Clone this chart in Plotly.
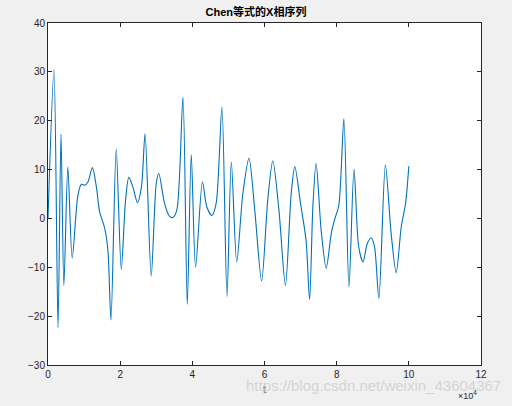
import plotly.graph_objects as go

# Chen system, x component (t in units of 1)
t_vals = [0, 1660, 2770, 3600, 4400, 5500, 6700, 8300, 9250, 10200, 11100, 12300,
          13400, 14300, 15700, 16600, 17450, 18900, 20300, 21500, 22400, 23500,
          24800, 25900, 26900, 28600, 30000, 30700, 32300, 33700, 34600, 35700,
          37400, 38600, 39700, 40900, 42800, 44000, 45400, 46600, 48200, 49600,
          50800, 52300, 54000, 55700, 57300, 59200, 60900, 62300, 64000, 65800,
          67400, 68400, 70000, 71500, 72500, 73400, 74300, 75700, 77100, 78500,
          79400, 80600, 82000, 83400, 84800, 86100, 87300, 88500, 89600, 90500,
          91700, 93500, 95100, 96500, 97900, 99100, 100000]
x_vals = [0, 30.4, -22.3, 17.2, -13.7, 10.5, -8.1, 4.8, 7.0, 6.8, 7.5, 10.4,
          6.5, 1.4, -2.0, -6.5, -20.8, 14.2, -10.4, 3.8, 8.4, 6.5,
          3.2, 6.5, 17.3, -11.8, 7.2, 9.2, 3.1, 0.4, 0.2, 1.7,
          24.8, -17.6, 13.1, -10.0, 7.5, 2.4, 0.6, 3.1, 22.8, -16.0,
          11.6, -8.9, 5.1, 12.3, 1.7, -12.8, 3.8, 11.8, 1.7, -13.7,
          5.1, 10.6, 3.0, -4.4, -16.6, 2.4, 11.3, -2.4, -10.2, -3.1,
          -0.3, 2.7, 20.4, -14.1, 10.1, -5.8, -8.9, -5.1, -4.0, -5.8,
          -16.4, 11.0, -3.1, -11.1, -1.7, 3.1, 10.7]

x_ticks = [0, 20000, 40000, 60000, 80000, 100000, 120000]
x_ticklabels = ["0", "2", "4", "6", "8", "10", "12"]
y_ticks = [-30, -20, -10, 0, 10, 20, 30, 40]

fig = go.Figure()
fig.add_trace(go.Scatter(
    x=t_vals, y=x_vals, mode="lines",
    line=dict(color="#0072BD", width=1.1, shape="spline", smoothing=0.8),
    showlegend=False, hoverinfo="skip"
))

axis_common = dict(
    showgrid=False, zeroline=False, showline=True, linecolor="#262626",
    linewidth=1, mirror="ticks", ticks="inside", ticklen=4, automargin=False,
    tickcolor="#262626", tickfont=dict(size=10, color="#262626"),
)

fig.update_layout(
    width=512, height=406,
    paper_bgcolor="#F0F0F0", plot_bgcolor="#FFFFFF",
    margin=dict(l=48, r=31, t=23, b=41),
    font=dict(family="Liberation Sans, Arial, sans-serif", color="#262626"),
    title=dict(text="<b>Chen等式的X相序列</b>", x=0.5, xanchor="center",
               y=0.98, yanchor="top",
               font=dict(size=11, family="Liberation Sans, Noto Sans CJK SC", color="#000000")),
    xaxis=dict(range=[0, 120000], tickvals=x_ticks, ticktext=x_ticklabels,
               title=dict(text="t", font=dict(size=11), standoff=6), **axis_common),
    yaxis=dict(range=[-30, 40], tickvals=y_ticks, **axis_common),
)

fig.add_annotation(text="https://blog.csdn.net/weixin_43604367", xref="paper", yref="paper",
                   x=1.05, y=-0.03, xanchor="right", yanchor="top",
                   showarrow=False, font=dict(size=15, color="rgba(205,205,205,0.8)"))
fig.add_annotation(text="×10<sup>4</sup>", xref="paper", yref="paper",
                   x=0.995, y=-0.065, xanchor="right", yanchor="top",
                   showarrow=False, font=dict(size=9, color="#262626"))

# page body has a default 8px margin; remove it so the figure sits at 0,0
fig.write_html("out.html", config={"displayModeBar": False},
               post_script="document.body.style.margin='0';document.body.style.overflow='hidden';")
